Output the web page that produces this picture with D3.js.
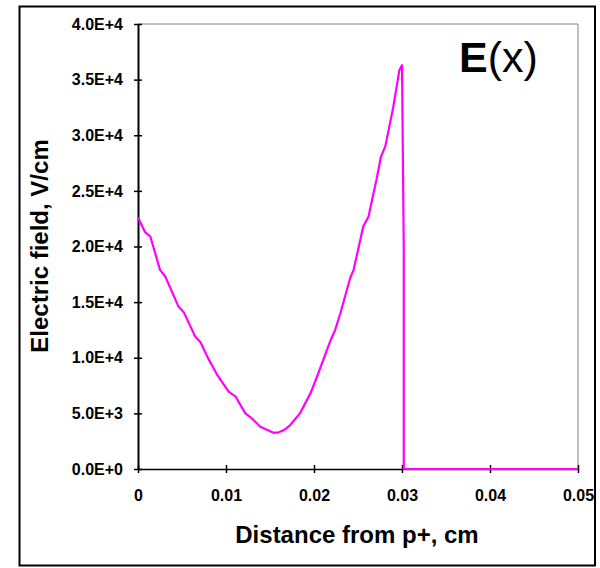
<!DOCTYPE html>
<html>
<head>
<meta charset="utf-8">
<script src="https://cdn.jsdelivr.net/npm/d3@7"></script>
<style>
  html, body { margin: 0; padding: 0; background: #fff; }
  svg { display: block; font-family: "Liberation Sans", Arial, sans-serif; }
</style>
</head>
<body>
<svg id="chart" width="600" height="568"></svg>
<script>
// Electric field profile across the device (distance in cm, field in V/cm)
const distance = [0, 0.0008, 0.0014, 0.0025, 0.0031, 0.0046, 0.0052, 0.0065, 0.0071, 0.0080,
  0.0086, 0.0090, 0.0103, 0.0111, 0.0122, 0.0128, 0.0139, 0.0147, 0.0154, 0.0160, 0.0166,
  0.0173, 0.0184, 0.0196, 0.0202, 0.0219, 0.0224, 0.0230, 0.0241, 0.0245, 0.0256, 0.0262,
  0.0266, 0.0271, 0.0276, 0.0281, 0.0290, 0.0297, 0.0300, 0.0302, 0.0302, 0.0500];
const field = [22600, 21300, 20900, 17900, 17300, 14600, 14100, 11900, 11400, 9900,
  9050, 8450, 6950, 6500, 5000, 4650, 3800, 3500, 3250, 3300, 3500,
  3950, 5000, 6800, 8000, 11600, 12500, 14000, 17150, 17900, 21800, 22700,
  24200, 26000, 28050, 29000, 32500, 35850, 36300, 20000, 0, 0];

const xTicks = [0, 0.01, 0.02, 0.03, 0.04, 0.05];
const xTickLabels = ["0", "0.01", "0.02", "0.03", "0.04", "0.05"];
const yTicks = [0, 5000, 10000, 15000, 20000, 25000, 30000, 35000, 40000];
const yTickLabels = ["0.0E+0", "5.0E+3", "1.0E+4", "1.5E+4", "2.0E+4", "2.5E+4", "3.0E+4", "3.5E+4", "4.0E+4"];

const svg = d3.select("#chart");
const L = 138, R = 578, T = 24, B = 469;

const x = d3.scaleLinear().domain([0, 0.05]).range([L, R]);
const y = d3.scaleLinear().domain([0, 40000]).range([B, T]);

// outer frame
svg.append("rect")
  .attr("x", 19.5).attr("y", 6.5).attr("width", 575.5).attr("height", 559)
  .attr("fill", "none").attr("stroke", "#000").attr("stroke-width", 2);

// plot area border (top and right)
svg.append("path")
  .attr("d", `M${L},${T}H${R}V${B}`)
  .attr("fill", "none").attr("stroke", "#808080").attr("stroke-width", 1);

// y axis
const yAxis = svg.append("g")
  .attr("transform", `translate(${L},0)`)
  .call(d3.axisLeft(y).tickValues(yTicks)
    .tickFormat((d, i) => yTickLabels[i])
    .tickSizeInner(4).tickSizeOuter(0).tickPadding(11));
yAxis.select(".domain").attr("stroke", "#000").attr("stroke-width", 2);
yAxis.selectAll(".tick line").attr("x1", 4).attr("x2", -4).attr("stroke", "#000").attr("stroke-width", 1.5);
yAxis.selectAll(".tick text")
  .attr("font-family", "'Liberation Sans', Arial, sans-serif")
  .attr("font-size", 16).attr("font-weight", "bold").attr("fill", "#000");

// x axis
const xAxis = svg.append("g")
  .attr("transform", `translate(0,${B})`)
  .call(d3.axisBottom(x).tickValues(xTicks)
    .tickFormat((d, i) => xTickLabels[i])
    .tickSizeInner(4).tickSizeOuter(0).tickPadding(17));
xAxis.select(".domain").attr("stroke", "#000").attr("stroke-width", 1.5);
xAxis.selectAll(".tick line").attr("y1", -4).attr("y2", 4).attr("stroke", "#000").attr("stroke-width", 1.5);
xAxis.selectAll(".tick text")
  .attr("font-family", "'Liberation Sans', Arial, sans-serif")
  .attr("font-size", 16).attr("font-weight", "bold").attr("fill", "#000");

// field curve
const line = d3.line()
  .x((d, i) => x(distance[i]))
  .y(d => y(d));
svg.append("path")
  .datum(field)
  .attr("d", line)
  .attr("fill", "none")
  .attr("stroke", "#ff00ff")
  .attr("stroke-width", 2.2)
  .attr("stroke-linejoin", "round");

// axis titles
svg.append("text")
  .attr("x", 357).attr("y", 543)
  .attr("text-anchor", "middle")
  .attr("font-size", 24).attr("font-weight", "bold")
  .text("Distance from p+, cm");

svg.append("text")
  .attr("transform", "translate(48,246) rotate(-90)")
  .attr("text-anchor", "middle")
  .attr("font-size", 24).attr("font-weight", "bold")
  .text("Electric field, V/cm");

// E(x) label
const lbl = svg.append("text")
  .attr("x", 459).attr("y", 72)
  .attr("font-size", 43);
lbl.append("tspan").attr("font-weight", "bold").text("E");
lbl.append("tspan").text("(x)");
</script>
</body>
</html>
